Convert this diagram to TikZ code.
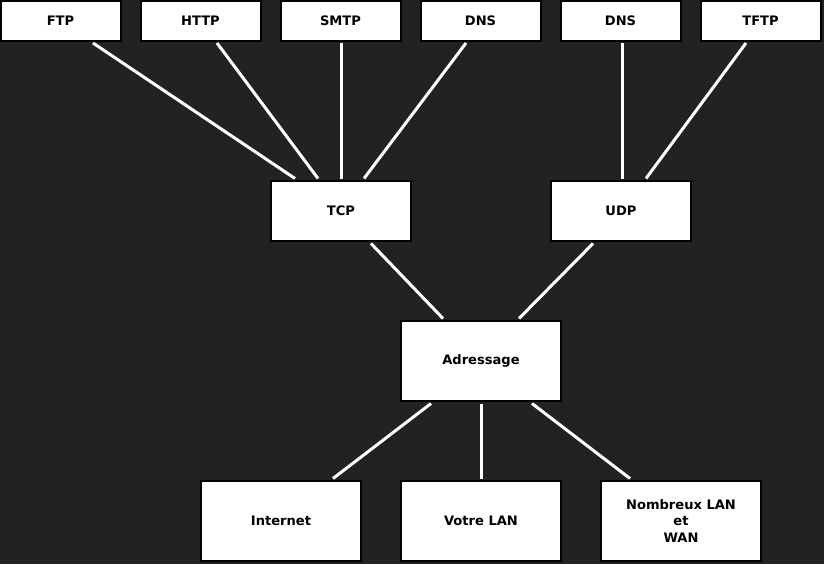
\documentclass[tikz,border=0pt]{standalone}
\usepackage{fontspec}
\setmainfont{DejaVu Sans}
\usetikzlibrary{calc}
\definecolor{bg}{HTML}{222222}
\begin{document}
\begin{tikzpicture}[x=0.75pt,y=-0.75pt,
  box/.style={draw=black,fill=white,line width=1.5pt,inner sep=0pt,align=center,
    font=\fontsize{9.8}{12.5}\selectfont\bfseries},
  top/.style={box,minimum width=90pt,minimum height=30pt},
  mid/.style={box,minimum width=105pt,minimum height=45pt},
  big/.style={box,minimum width=120pt,minimum height=60pt},
  link/.style={draw=white,line width=2.25pt}]
\fill[bg] (0,0) rectangle (824,564);
\useasboundingbox (0,0) rectangle (824,564);
\node[top] (ftp)  at (60.5,20.5) {FTP};
\node[top] (http) at (200.5,20.5) {HTTP};
\node[top] (smtp) at (340.5,20.5) {SMTP};
\node[top] (dnsa) at (480.5,20.5) {DNS};
\node[top] (dnsb) at (620.5,20.5) {DNS};
\node[top] (tftp) at (760.5,20.5) {TFTP};
\node[mid] (tcp) at (341,211) {TCP};
\node[mid] (udp) at (621,211) {UDP};
\node[big] (adr) at (481,361) {Adressage};
\node[big] (inet) at (281,521) {Internet};
\node[big] (lan) at (481,521) {Votre LAN};
\node[big] (wan) at (681,521) {Nombreux LAN\\et\\WAN};
\draw[link] ($(ftp.south)+(32.5,1.5)$) -- ($(tcp.north)+(-46,-1.5)$);
\draw[link] ($(http.south)+(16.5,1.5)$) -- ($(tcp.north)+(-23,-1.5)$);
\draw[link] ($(smtp.south)+(0.5,1.5)$) -- ($(tcp.north)+(0,-1.5)$);
\draw[link] ($(dnsa.south)+(-14.5,1.5)$) -- ($(tcp.north)+(23,-1.5)$);
\draw[link] ($(dnsb.south)+(1.5,1.5)$) -- ($(udp.north)+(1,-1.5)$);
\draw[link] ($(tftp.south)+(-14.5,1.5)$) -- ($(udp.north)+(25,-1.5)$);
\draw[link] ($(tcp.south)+(30,1.5)$) -- ($(adr.north)+(-38,-1.5)$);
\draw[link] ($(udp.south)+(-28,1.5)$) -- ($(adr.north)+(38,-1.5)$);
\draw[link] ($(adr.south)+(-50,1.5)$) -- ($(inet.north)+(52,-1.5)$);
\draw[link] ($(adr.south)+(0,1.5)$) -- ($(lan.north)+(0,-1.5)$);
\draw[link] ($(adr.south)+(51,1.5)$) -- ($(wan.north)+(-51,-1.5)$);
\end{tikzpicture}
\end{document}
